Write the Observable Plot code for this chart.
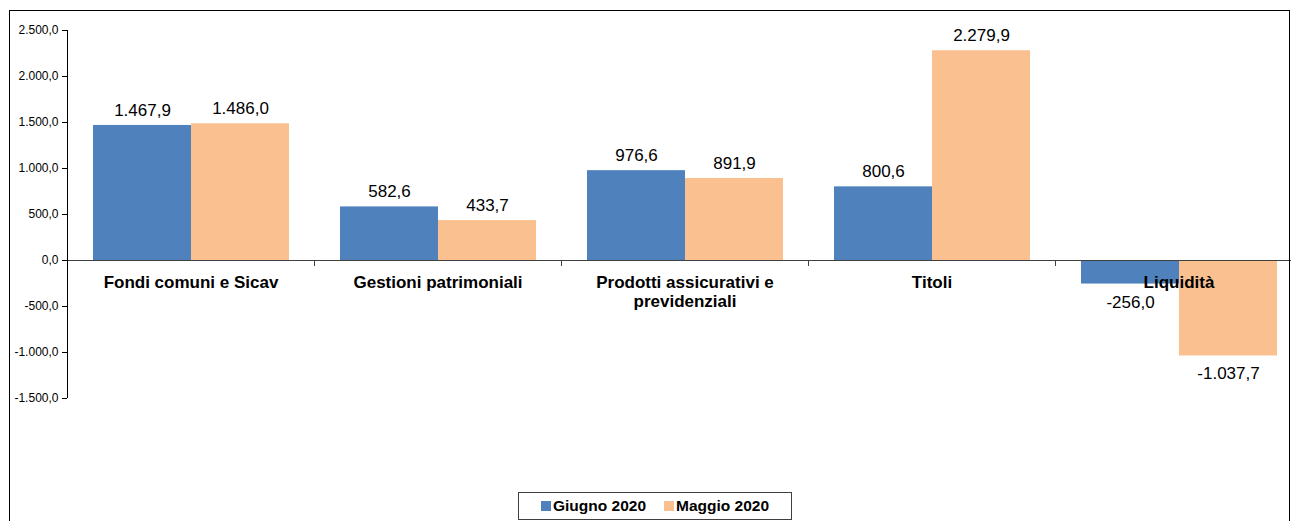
<!DOCTYPE html>
<html><head><meta charset="utf-8">
<script src="https://cdn.jsdelivr.net/npm/d3@7"></script>
<script src="https://cdn.jsdelivr.net/npm/@observablehq/plot@0.6"></script>
<style>
body{margin:0;background:#fff;font-family:Arial,"Liberation Sans",sans-serif;}
#wrap{position:relative;width:1291px;height:521px;overflow:hidden;}
#chart{position:absolute;left:0;top:0;}
#frame{position:absolute;left:9px;top:10px;width:1281px;height:530px;border:1px solid #000;box-sizing:border-box;pointer-events:none;}
#legend{position:absolute;left:518px;top:492px;width:274px;height:28px;border:1px solid #404040;box-sizing:border-box;display:flex;align-items:center;font-weight:bold;font-size:15.5px;color:#000;padding-left:22px;}
#legend .item{display:flex;align-items:center;margin-right:18px;}
#legend .sw{width:10px;height:10px;margin-right:2px;}
</style></head>
<body><div id="wrap"><div id="chart"></div><div id="legend"></div><div id="frame"></div></div>
<script>
const categories = ["Fondi comuni e Sicav", "Gestioni patrimoniali", "Prodotti assicurativi e\nprevidenziali", "Titoli", "Liquidità"];
const seriesNames = ["Giugno 2020", "Maggio 2020"];
const giugno = [1467.9, 582.6, 976.6, 800.6, -256.0];
const maggio = [1486.0, 433.7, 891.9, 2279.9, -1037.7];
const yTicks = [-1500, -1000, -500, 0, 500, 1000, 1500, 2000, 2500];
const colors = ["#4F81BD", "#FAC090"];

const locale = d3.formatLocale({decimal: ",", thousands: ".", grouping: [3], currency: ["", "€"], minus: "-"});
const fmt = locale.format(",.1f");

const data = categories.flatMap((c, i) => [
  {cat: c, s: seriesNames[0], v: giugno[i]},
  {cat: c, s: seriesNames[1], v: maggio[i]}
]);

const chart = Plot.plot({
  width: 1291,
  height: 480,
  marginLeft: 67,
  marginRight: -11,
  marginTop: 30,
  marginBottom: 82,
  style: {fontFamily: "Arial, 'Liberation Sans', sans-serif", fontSize: "12px", background: "transparent", color: "#000"},
  fx: {domain: categories, padding: 0, axis: null},
  x: {domain: seriesNames, paddingInner: 0, paddingOuter: 0.25, axis: null},
  y: {domain: [-1500, 2500], ticks: yTicks, tickFormat: fmt, tickSize: 5, tickPadding: 4, label: null},
  color: {domain: seriesNames, range: colors},
  marks: [
    Plot.barY(data, {fx: "cat", x: "s", y: "v", fill: "s"}),
    Plot.ruleY([0], {stroke: "#404040", strokeWidth: 1}),
    Plot.text(data.filter(d => d.v >= 0), {fx: "cat", x: "s", y: "v", text: d => fmt(d.v), dy: -15, fontSize: 17, lineAnchor: "middle", fill: "#000"}),
    Plot.text(data.filter(d => d.v < 0), {fx: "cat", x: "s", y: "v", text: d => fmt(d.v), dy: 18, fontSize: 17, lineAnchor: "middle", fill: "#000"}),
    Plot.text(categories, {fx: d => d, y: 0, text: d => d, fontWeight: "bold", fontSize: 17, lineAnchor: "top", dy: 14, lineHeight: 1.13, fill: "#000"})
  ]
});
document.getElementById("chart").appendChild(chart);

// y axis line and category separator ticks, using the plot's scales
const yS = chart.scale("y"), fxS = chart.scale("fx");
const svg = d3.select(chart);
const y0 = yS.apply(0);
svg.append("line")
  .attr("x1", 67.5).attr("x2", 67.5)
  .attr("y1", yS.apply(d3.max(yTicks))).attr("y2", yS.apply(d3.min(yTicks)))
  .attr("stroke", "#000");
categories.slice(1).forEach(c => {
  const x = Math.round(fxS.apply(c)) + 0.5;
  svg.append("line").attr("x1", x).attr("x2", x).attr("y1", y0).attr("y2", y0 + 6).attr("stroke", "#404040");
});

// legend
const lg = d3.select("#legend");
seriesNames.forEach((s, i) => {
  const it = lg.append("div").attr("class", "item");
  it.append("div").attr("class", "sw").style("background", colors[i]);
  it.append("span").text(s);
});
</script>
</body></html>
